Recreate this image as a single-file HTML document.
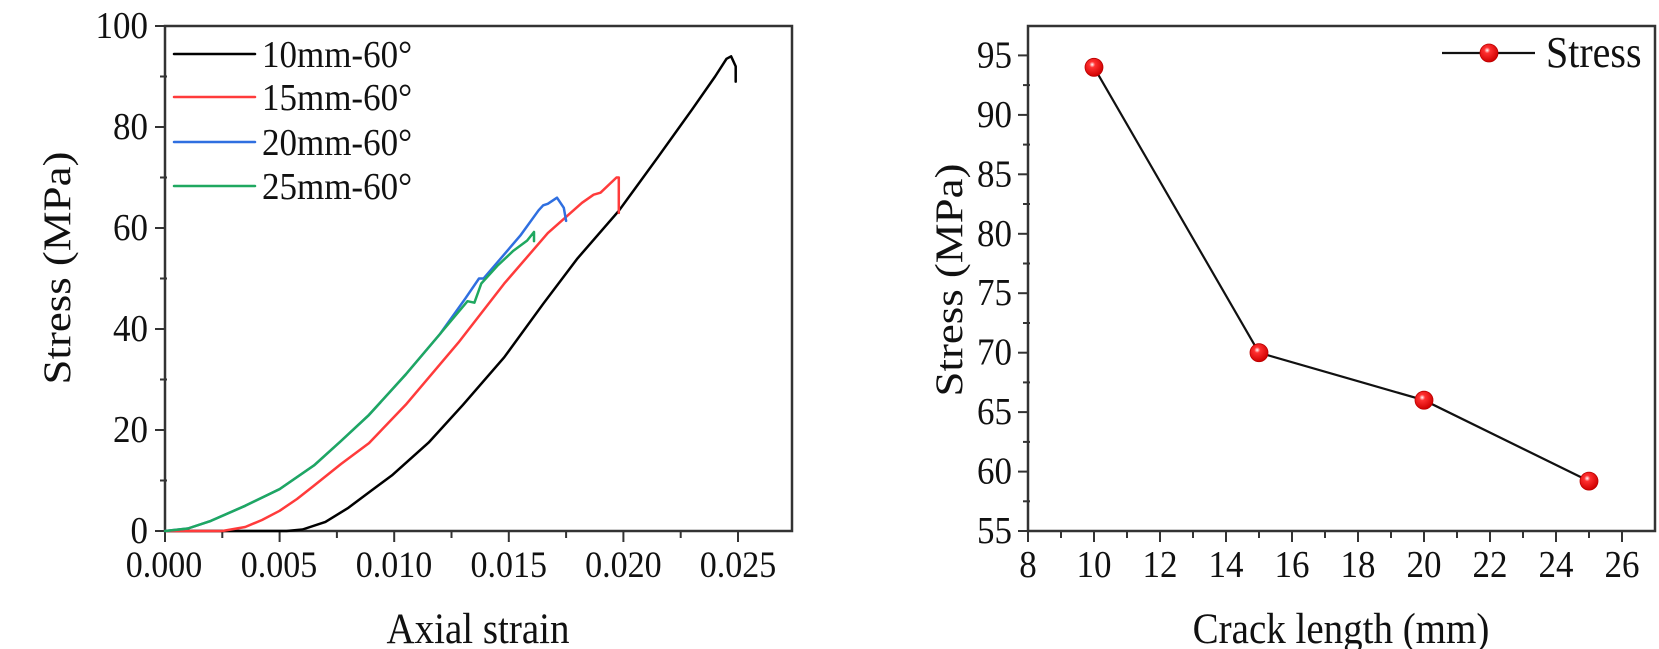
<!DOCTYPE html>
<html><head><meta charset="utf-8"><style>
html,body{margin:0;padding:0;background:#fff}
svg{display:block}
text{font-family:"Liberation Serif",serif;fill:#111}
</style></head><body>
<svg width="1659" height="649" viewBox="0 0 1659 649">
<defs>
<radialGradient id="rg" cx="0.4" cy="0.35" r="0.65">
<stop offset="0" stop-color="#fff"/><stop offset="0.25" stop-color="#ff3030"/><stop offset="1" stop-color="#d00000"/>
</radialGradient>
</defs>
<!-- LEFT CHART -->
<rect x="165" y="26" width="627" height="505" fill="none" stroke="#333" stroke-width="2.5"/>
<g stroke="#333" stroke-width="2">
<line x1="155" y1="531" x2="165" y2="531"/><line x1="155" y1="430" x2="165" y2="430"/><line x1="155" y1="329" x2="165" y2="329"/><line x1="155" y1="228" x2="165" y2="228"/><line x1="155" y1="127" x2="165" y2="127"/><line x1="155" y1="26" x2="165" y2="26"/>
<line x1="160" y1="480.5" x2="167" y2="480.5"/><line x1="160" y1="379.5" x2="167" y2="379.5"/><line x1="160" y1="278.5" x2="167" y2="278.5"/><line x1="160" y1="177.5" x2="167" y2="177.5"/><line x1="160" y1="76.5" x2="167" y2="76.5"/>
<line x1="165" y1="531" x2="165" y2="542"/><line x1="279.6" y1="531" x2="279.6" y2="542"/><line x1="394.2" y1="531" x2="394.2" y2="542"/><line x1="508.8" y1="531" x2="508.8" y2="542"/><line x1="623.4" y1="531" x2="623.4" y2="542"/><line x1="738" y1="531" x2="738" y2="542"/>
<line x1="222.3" y1="531" x2="222.3" y2="538"/><line x1="336.9" y1="531" x2="336.9" y2="538"/><line x1="451.5" y1="531" x2="451.5" y2="538"/><line x1="566.1" y1="531" x2="566.1" y2="538"/><line x1="680.7" y1="531" x2="680.7" y2="538"/>
</g>
<g font-size="35" text-anchor="end">
<g transform="translate(148,543) scale(1,1.1)"><text>0</text></g>
<g transform="translate(148,442) scale(1,1.1)"><text>20</text></g>
<g transform="translate(148,341) scale(1,1.1)"><text>40</text></g>
<g transform="translate(148,240) scale(1,1.1)"><text>60</text></g>
<g transform="translate(148,139) scale(1,1.1)"><text>80</text></g>
<g transform="translate(148,38) scale(1,1.1)"><text>100</text></g>
</g>
<g font-size="34" text-anchor="middle" transform="translate(0,577) scale(1,1.1)">
<text x="164" y="0">0.000</text><text x="279" y="0">0.005</text><text x="394" y="0">0.010</text><text x="508.8" y="0">0.015</text><text x="623.4" y="0">0.020</text><text x="738" y="0">0.025</text>
</g>
<g transform="translate(478,643) scale(1,1.12)"><text font-size="39" text-anchor="middle">Axial strain</text></g>
<text transform="translate(70,268) rotate(-90) scale(1.15,1)" font-size="39" text-anchor="middle">Stress (MPa)</text>
<g fill="none" stroke-width="2.5" stroke-linejoin="round" stroke-linecap="round">
<polyline stroke="#000" points="165,531 286.5,531 302.5,529.5 325.4,521.9 348.4,507.8 371.3,490.6 391.9,475.4 428.6,442.6 463,404.8 504.2,357.3 543.2,303.8 577.6,258.3 618.8,210.8 657.8,157.3 692.2,109.3 715.1,76.5 726.5,58.8 731.1,56.3 735.7,66.4 735.7,81.6"/>
<polyline stroke="#ff3b3b" points="165,531 222.3,531 245.2,527 262,520 279.6,510.8 297,499 314,485.6 341,464 369,443.1 405.7,404.8 458.4,342.6 504.2,283.6 547.8,233.1 582,202.8 593.6,194.7 600.5,192.7 616.5,177.5 618.8,177.5 618.8,212.9"/>
<polyline stroke="#2f6fe0" points="165,531 187.9,528.5 210.8,520.9 245.2,505.8 279.6,489.1 314,465.4 341,441 369,414.9 405.7,374.5 440,334 465.2,298.7 479,278.5 483.6,278.5 520.3,235.6 538.6,210.3 543.2,205.3 547.8,203.8 557,197.7 563.8,207.8 566.1,220.9"/>
<polyline stroke="#1fa860" points="165,531 187.9,528.5 210.8,520.9 245.2,505.8 279.6,489.1 314,465.4 341,441 369,414.9 405.7,374.5 440,334 467.5,301.2 474.4,302.7 481.3,283.5 497.3,265.9 513.4,250.7 527.1,240.6 534,232 534,241.1"/>
<line x1="174" y1="54" x2="255" y2="54" stroke="#000"/>
<line x1="174" y1="97" x2="255" y2="97" stroke="#ff3b3b"/>
<line x1="174" y1="142" x2="255" y2="142" stroke="#2f6fe0"/>
<line x1="174" y1="186" x2="255" y2="186" stroke="#1fa860"/>
</g>
<g font-size="35">
<g transform="translate(262,67) scale(1,1.1)"><text>10mm-60°</text></g>
<g transform="translate(262,110) scale(1,1.1)"><text>15mm-60°</text></g>
<g transform="translate(262,155) scale(1,1.1)"><text>20mm-60°</text></g>
<g transform="translate(262,199) scale(1,1.1)"><text>25mm-60°</text></g>
</g>
<!-- RIGHT CHART -->
<rect x="1028" y="26" width="627" height="505" fill="none" stroke="#333" stroke-width="2.5"/>
<g stroke="#333" stroke-width="2">
<line x1="1018" y1="531" x2="1028" y2="531"/><line x1="1018" y1="471.6" x2="1028" y2="471.6"/><line x1="1018" y1="412.1" x2="1028" y2="412.1"/><line x1="1018" y1="352.7" x2="1028" y2="352.7"/><line x1="1018" y1="293.2" x2="1028" y2="293.2"/><line x1="1018" y1="233.8" x2="1028" y2="233.8"/><line x1="1018" y1="174.3" x2="1028" y2="174.3"/><line x1="1018" y1="114.9" x2="1028" y2="114.9"/><line x1="1018" y1="55.4" x2="1028" y2="55.4"/>
<line x1="1023" y1="501.3" x2="1030" y2="501.3"/><line x1="1023" y1="441.9" x2="1030" y2="441.9"/><line x1="1023" y1="382.4" x2="1030" y2="382.4"/><line x1="1023" y1="323" x2="1030" y2="323"/><line x1="1023" y1="263.5" x2="1030" y2="263.5"/><line x1="1023" y1="204" x2="1030" y2="204"/><line x1="1023" y1="144.6" x2="1030" y2="144.6"/><line x1="1023" y1="85.1" x2="1030" y2="85.1"/>
<line x1="1028" y1="531" x2="1028" y2="542"/><line x1="1094" y1="531" x2="1094" y2="542"/><line x1="1160" y1="531" x2="1160" y2="542"/><line x1="1226" y1="531" x2="1226" y2="542"/><line x1="1292" y1="531" x2="1292" y2="542"/><line x1="1358" y1="531" x2="1358" y2="542"/><line x1="1424" y1="531" x2="1424" y2="542"/><line x1="1490" y1="531" x2="1490" y2="542"/><line x1="1556" y1="531" x2="1556" y2="542"/><line x1="1622" y1="531" x2="1622" y2="542"/>
<line x1="1061" y1="531" x2="1061" y2="538"/><line x1="1127" y1="531" x2="1127" y2="538"/><line x1="1193" y1="531" x2="1193" y2="538"/><line x1="1259" y1="531" x2="1259" y2="538"/><line x1="1325" y1="531" x2="1325" y2="538"/><line x1="1391" y1="531" x2="1391" y2="538"/><line x1="1457" y1="531" x2="1457" y2="538"/><line x1="1523" y1="531" x2="1523" y2="538"/><line x1="1589" y1="531" x2="1589" y2="538"/>
</g>
<g font-size="35" text-anchor="end">
<g transform="translate(1012,543) scale(1,1.1)"><text>55</text></g>
<g transform="translate(1012,483.6) scale(1,1.1)"><text>60</text></g>
<g transform="translate(1012,424.1) scale(1,1.1)"><text>65</text></g>
<g transform="translate(1012,364.7) scale(1,1.1)"><text>70</text></g>
<g transform="translate(1012,305.2) scale(1,1.1)"><text>75</text></g>
<g transform="translate(1012,245.8) scale(1,1.1)"><text>80</text></g>
<g transform="translate(1012,186.3) scale(1,1.1)"><text>85</text></g>
<g transform="translate(1012,126.9) scale(1,1.1)"><text>90</text></g>
<g transform="translate(1012,67.4) scale(1,1.1)"><text>95</text></g>
</g>
<g font-size="35" text-anchor="middle" transform="translate(0,577) scale(1,1.1)">
<text x="1028" y="0">8</text><text x="1094" y="0">10</text><text x="1160" y="0">12</text><text x="1226" y="0">14</text><text x="1292" y="0">16</text><text x="1358" y="0">18</text><text x="1424" y="0">20</text><text x="1490" y="0">22</text><text x="1556" y="0">24</text><text x="1622" y="0">26</text>
</g>
<g transform="translate(1341,643) scale(1,1.12)"><text font-size="39" text-anchor="middle">Crack length (mm)</text></g>
<text transform="translate(962,280) rotate(-90) scale(1.15,1)" font-size="39" text-anchor="middle">Stress (MPa)</text>
<polyline fill="none" stroke="#111" stroke-width="2.2" points="1094,67.3 1259,352.7 1424,400.2 1589,481.1"/>
<line x1="1442" y1="53" x2="1535" y2="53" stroke="#111" stroke-width="2.2"/>
<g fill="url(#rg)" stroke="#b00" stroke-width="0.8">
<circle cx="1094" cy="67.3" r="9"/><circle cx="1259" cy="352.7" r="9"/><circle cx="1424" cy="400.2" r="9"/><circle cx="1589" cy="481.1" r="9"/><circle cx="1489" cy="53" r="9"/>
</g>
<g transform="translate(1546,67) scale(1,1.1)"><text font-size="40">Stress</text></g>
</svg>
</body></html>
